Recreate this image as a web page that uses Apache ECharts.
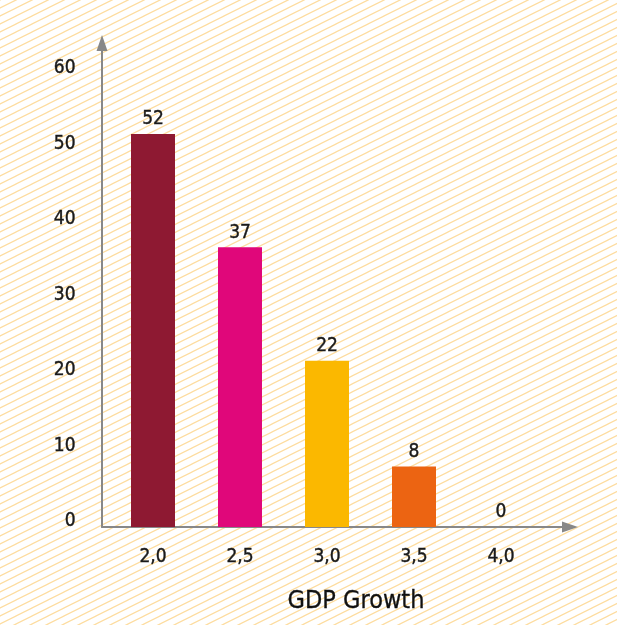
<!DOCTYPE html>
<html>
<head>
<meta charset="utf-8">
<script src="https://cdn.jsdelivr.net/npm/echarts@6/dist/echarts.min.js"></script>
<style>html,body{margin:0;padding:0;background:#fff}#c{width:617px;height:625px}</style>
</head>
<body>
<div id="c"></div>
<script>
var categories = ['2,0', '2,5', '3,0', '3,5', '4,0'];
var values = [52, 37, 22, 8, 0];
var barColors = ['#8e1932', '#e0077a', '#fbb800', '#ec6412', '#999999'];
var yMin = 0, yMax = 60, yInterval = 10;
var xTitle = 'GDP Growth';

var NUMFONT = '"Liberation Sans Narrow", "DejaVu Sans Condensed", sans-serif';
var FONT = '"DejaVu Sans Condensed", "Liberation Sans Narrow", sans-serif';

// striped background pattern
var tile = document.createElement('canvas');
tile.width = 16; tile.height = 8;
var ctx = tile.getContext('2d');
ctx.fillStyle = '#ffffff';
ctx.fillRect(0, 0, 16, 8);
ctx.strokeStyle = '#fddc9e';
ctx.lineWidth = 1.2;
for (var k = -1; k <= 2; k++) {
  ctx.beginPath();
  ctx.moveTo(-2, 9 + k * 8);
  ctx.lineTo(18, -1 + k * 8);
  ctx.stroke();
}

var numStyle = {fontSize: 19, color: '#1a1a1a', fontFamily: NUMFONT, textBorderColor: '#1a1a1a', textBorderWidth: 0.4};

var chart = echarts.init(document.getElementById('c'), null, {renderer: 'canvas'});
chart.setOption({
  backgroundColor: {image: tile, repeat: 'repeat'},
  animation: false,
  grid: [
    {left: 102, top: 43, right: 47, bottom: 98, containLabel: false},
    {left: 109.5, width: 435, top: 73.5, bottom: 98, containLabel: false}
  ],
  xAxis: [
    {gridIndex: 0, type: 'value', min: 0, max: 1, show: true,
      axisLine: {show: true, symbol: ['none', 'triangle'], symbolSize: [11, 16], lineStyle: {color: '#888', width: 2}},
      axisTick: {show: false}, axisLabel: {show: false}, splitLine: {show: false}},
    {gridIndex: 1, type: 'category', data: categories,
      axisLine: {show: false}, axisTick: {show: false}, splitLine: {show: false},
      axisLabel: Object.assign({margin: 21}, numStyle)}
  ],
  yAxis: [
    {gridIndex: 0, type: 'value', min: 0, max: 1,
      axisLine: {show: true, symbol: ['none', 'triangle'], symbolSize: [11, 16], lineStyle: {color: '#888', width: 2}},
      axisTick: {show: false}, axisLabel: {show: false}, splitLine: {show: false}},
    {gridIndex: 1, type: 'value', min: yMin, max: yMax, interval: yInterval,
      axisLine: {show: false}, axisTick: {show: false}, splitLine: {show: false},
      axisLabel: Object.assign({margin: 34, verticalAlign: 'bottom', lineHeight: 11}, numStyle)}
  ],
  series: [{
    type: 'bar', xAxisIndex: 1, yAxisIndex: 1,
    barWidth: 44,
    data: values.map(function (v, i) { return {value: v, itemStyle: {color: barColors[i]}}; }),
    label: Object.assign({show: true, position: 'top', distance: 5}, numStyle)
  }],
  graphic: [{
    type: 'text', x: 356, y: 601,
    style: {text: xTitle, fontSize: 25, fill: '#111', fontFamily: FONT, textAlign: 'center', textVerticalAlign: 'middle', stroke: '#111', lineWidth: 0.3}
  }]
});
</script>
</body>
</html>
